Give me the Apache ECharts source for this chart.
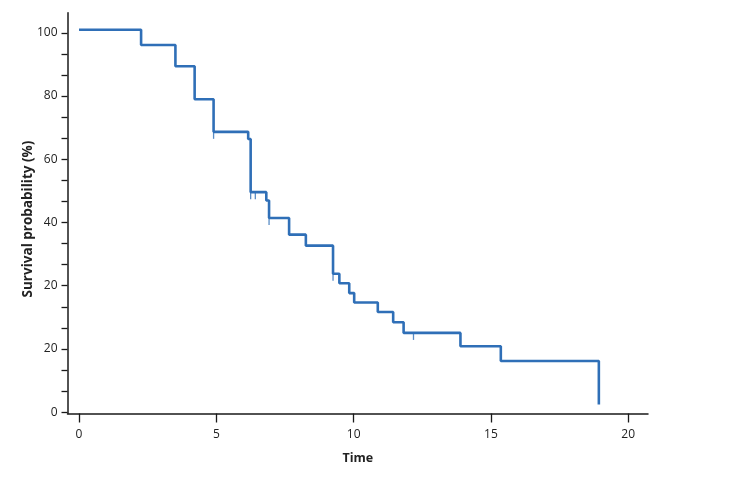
<!DOCTYPE html>
<html>
<head>
<meta charset="utf-8">
<script src="https://cdn.jsdelivr.net/npm/echarts@6/dist/echarts.min.js"></script>
<style>html,body{margin:0;padding:0;background:#fff}#c{width:750px;height:500px}</style>
</head>
<body>
<div id="c"></div>
<script>
// Step times (event times) and survival (%) after each event
var times = [0, 2.26, 3.51, 4.21, 4.90, 6.16, 6.25, 6.82, 6.92, 7.65, 8.26, 9.25, 9.48, 9.84, 10.02, 10.88, 11.44, 11.82, 13.89, 15.36, 18.93];
var survival = [100.8, 96.8, 91.2, 82.5, 73.9, 72.0, 58.0, 55.8, 51.2, 46.8, 43.9, 36.5, 34.0, 31.4, 28.9, 26.4, 23.7, 20.9, 17.4, 13.5, 2.0];
// Censored observations
var censorTimes = [4.90, 6.25, 6.42, 6.92, 9.25, 12.18];
var censorSurvival = [73.9, 58.0, 58.0, 51.2, 36.5, 20.9];
// Axis ticks
var xTicks = [0, 5, 10, 15, 20];
var yTickLabels = ['0', '20', '20', '40', '60', '80', '100'];

var yStep = 100 / (yTickLabels.length - 1);
var yLabelValues = yTickLabels.map(function (_, i) { return i * yStep; });
var yTickValues = [];
for (var i = 0; i <= (yTickLabels.length - 1) * 3; i++) yTickValues.push(i * yStep / 3);

var lineData = times.map(function (t, i) { return [t, survival[i]]; });
var censorData = censorTimes.map(function (t, i) { return [t, censorSurvival[i]]; });

var font = '"Open Sans", "Noto Sans", sans-serif';
var blue = '#2f6fb7';
var axisCol = '#1a1a1a';

var chart = echarts.init(document.getElementById('c'), null, {renderer: 'canvas'});
chart.setOption({
  animation: false,
  backgroundColor: '#ffffff',
  grid: {left: 67.5, right: 102, top: 12.7, bottom: 86.5, containLabel: false},
  xAxis: {
    type: 'value',
    min: -0.42,
    max: 20.72,
    name: 'Time',
    nameLocation: 'middle',
    nameGap: 38,
    nameMoveOverlap: false,
    nameTextStyle: {fontFamily: font, fontSize: 12.5, fontWeight: 'bold', color: '#222'},
    axisLine: {show: true, onZero: false, lineStyle: {color: axisCol, width: 1.5}},
    axisTick: {show: true, length: 9, customValues: xTicks, lineStyle: {color: axisCol, width: 1.3}},
    axisLabel: {customValues: xTicks, margin: 15, fontFamily: font, fontSize: 12, color: '#222'},
    splitLine: {show: false}
  },
  yAxis: {
    type: 'value',
    min: -0.34,
    max: 105.3,
    name: 'Survival probability (%)',
    nameLocation: 'middle',
    nameGap: 32,
    nameMoveOverlap: false,
    nameTextStyle: {fontFamily: font, fontSize: 13.5, fontWeight: 'bold', color: '#222', padding: [0, 12, 0, 0]},
    axisLine: {show: true, onZero: false, lineStyle: {color: axisCol, width: 1.5}},
    axisTick: {show: true, length: 6, customValues: yTickValues, lineStyle: {color: axisCol, width: 1.3}},
    axisLabel: {
      customValues: yLabelValues,
      margin: 10,
      fontFamily: font, fontSize: 12, color: '#222',
      formatter: function (v) { return yTickLabels[Math.round(v / yStep)]; }
    },
    splitLine: {show: false}
  },
  series: [
    {
      type: 'line',
      step: 'end',
      data: lineData,
      showSymbol: false,
      symbol: 'none',
      lineStyle: {color: blue, width: 2.6},
      z: 3
    },
    {
      type: 'scatter',
      data: censorData,
      symbol: 'rect',
      symbolSize: [1.3, 7],
      symbolOffset: [0, 3.5],
      itemStyle: {color: blue},
      z: 2
    }
  ]
});
</script>
</body>
</html>
